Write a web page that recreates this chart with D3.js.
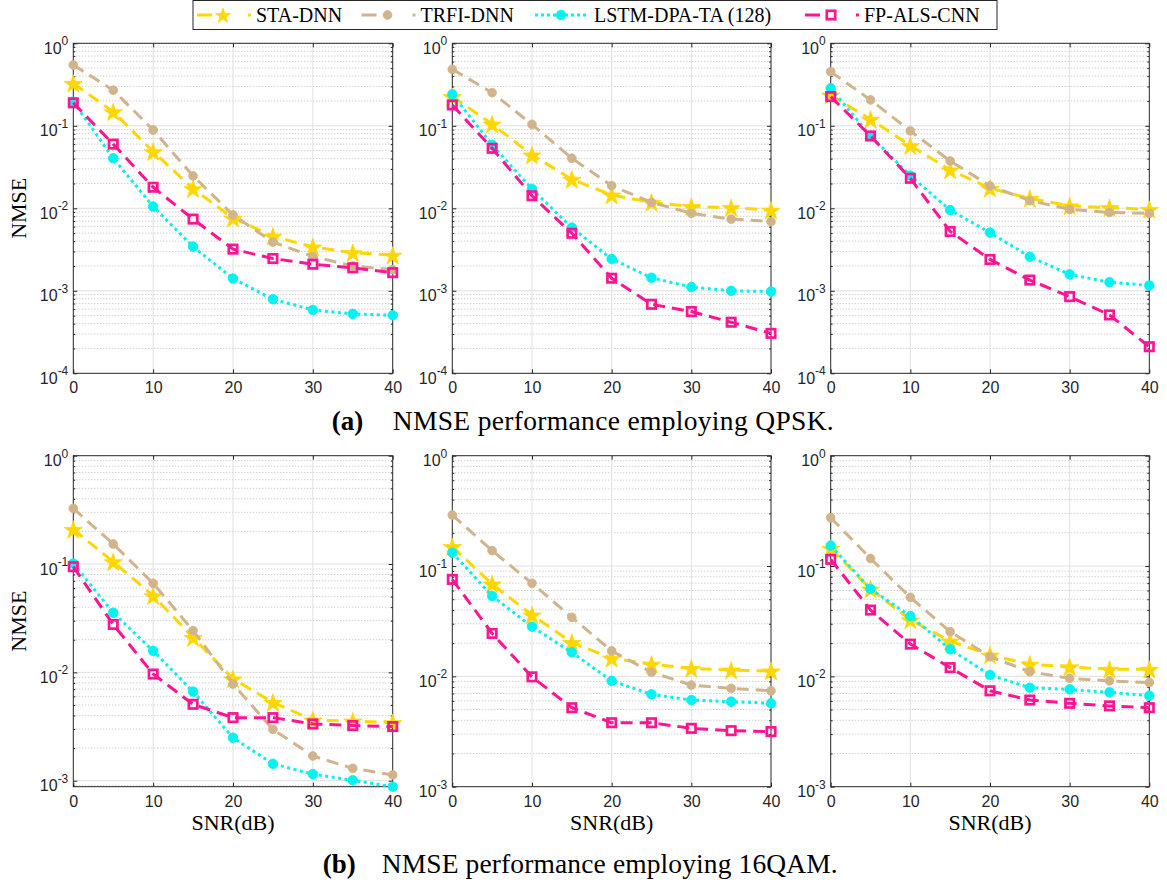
<!DOCTYPE html>
<html><head><meta charset="utf-8">
<script src="https://cdn.jsdelivr.net/npm/d3@7"></script>
<style>body{margin:0;background:#fff}svg{display:block}</style>
</head><body><svg id="c" width="1167" height="883"></svg>
<script>
const snr = [0,5,10,15,20,25,30,35,40];
const seriesNames = ["STA-DNN","TRFI-DNN","LSTM-DPA-TA (128)","FP-ALS-CNN"];
const xTicks = [0,10,20,30,40];
const captionA = ["(a)", "NMSE performance employing QPSK."];
const captionB = ["(b)", "NMSE performance employing 16QAM."];
const yLabel = "NMSE", xLabel = "SNR(dB)";

// QPSK
const qpsk_sta_1  = [0.327,0.148,0.0486,0.0173,0.0076,0.0046,0.0034,0.0029,0.0027];
const qpsk_trfi_1 = [0.546,0.27,0.089,0.0247,0.0083,0.0039,0.0026,0.002,0.0018];
const qpsk_lstm_1 = [0.196,0.0404,0.0105,0.00343,0.00141,0.00079,0.000586,0.000525,0.000505];
const qpsk_fp_1   = [0.19,0.06,0.018,0.0074,0.0032,0.00246,0.0021,0.0019,0.00166];

const qpsk_sta_2  = [0.226,0.105,0.0443,0.0225,0.0145,0.0118,0.0105,0.0102,0.0095];
const qpsk_trfi_2 = [0.484,0.252,0.104,0.0404,0.0188,0.0118,0.0087,0.0074,0.0069];
const qpsk_lstm_2 = [0.241,0.0586,0.0171,0.00583,0.00243,0.00144,0.00111,0.001,0.00098];
const qpsk_fp_2   = [0.179,0.0533,0.0142,0.00498,0.00142,0.000686,0.00056,0.000416,0.000305];

const qpsk_sta_3  = [0.236,0.12,0.0575,0.0292,0.0175,0.0132,0.0107,0.0102,0.0097];
const qpsk_trfi_3 = [0.453,0.206,0.0866,0.0375,0.0187,0.0124,0.0097,0.0089,0.0087];
const qpsk_lstm_3 = [0.285,0.0753,0.0249,0.0095,0.00507,0.00259,0.00158,0.00127,0.00116];
const qpsk_fp_3   = [0.226,0.0753,0.0231,0.00524,0.0024,0.00135,0.00085,0.00051,0.00021];

// 16QAM
const qam_sta_1  = [0.209,0.105,0.051,0.021,0.0087,0.00529,0.00363,0.00355,0.00343];
const qam_trfi_1 = [0.326,0.153,0.0663,0.0243,0.0078,0.00298,0.00169,0.0013,0.00113];
const qam_lstm_1 = [0.101,0.0355,0.0158,0.00664,0.00249,0.00143,0.00115,0.00101,0.00088];
const qam_fp_1   = [0.0945,0.0277,0.00965,0.00507,0.00382,0.00382,0.00334,0.00323,0.00316];

const qam_sta_2  = [0.15,0.0687,0.036,0.0203,0.0146,0.0129,0.0118,0.0114,0.0112];
const qam_trfi_2 = [0.29,0.138,0.0697,0.0343,0.017,0.0109,0.00834,0.00778,0.0074];
const qam_lstm_2 = [0.132,0.0535,0.0282,0.0165,0.0091,0.00687,0.0061,0.0059,0.0057];
const qam_fp_2   = [0.0757,0.0245,0.0099,0.0052,0.0038,0.0038,0.00338,0.00322,0.00316];

const qam_sta_3  = [0.145,0.0619,0.0325,0.0209,0.0156,0.0129,0.0122,0.0116,0.0116];
const qam_trfi_3 = [0.274,0.117,0.052,0.0254,0.0151,0.011,0.0096,0.0091,0.0088];
const qam_lstm_3 = [0.153,0.0619,0.0352,0.0176,0.0103,0.00789,0.00762,0.00716,0.00668];
const qam_fp_3   = [0.115,0.0399,0.0196,0.012,0.0074,0.0061,0.0057,0.0054,0.0052];

const topMin = 1e-4, bottomMin = 1e-3, bottomLeftMin = 8.8e-4;

const styles = [
  {color:"#FFD700", dash:"12,7", width:3, marker:"star"},
  {color:"#D2B48C", dash:"12,7", width:3, marker:"circle", r:4.4},
  {color:"#00F2F2", dash:"3,3.5", width:3, marker:"circle", r:4.8},
  {color:"#FF1493", dash:"12,7", width:3, marker:"square"}
];

const colsX = [[73.3,392.7],[452.3,771],[830.7,1149.3]];
const rowsY = [[43.3,373.3],[455.7,786.7]];

const panels = [
  {c:0,r:0,ymin:topMin,data:[qpsk_sta_1,qpsk_trfi_1,qpsk_lstm_1,qpsk_fp_1]},
  {c:1,r:0,ymin:topMin,data:[qpsk_sta_2,qpsk_trfi_2,qpsk_lstm_2,qpsk_fp_2]},
  {c:2,r:0,ymin:topMin,data:[qpsk_sta_3,qpsk_trfi_3,qpsk_lstm_3,qpsk_fp_3]},
  {c:0,r:1,ymin:bottomLeftMin,data:[qam_sta_1,qam_trfi_1,qam_lstm_1,qam_fp_1]},
  {c:1,r:1,ymin:bottomMin,data:[qam_sta_2,qam_trfi_2,qam_lstm_2,qam_fp_2]},
  {c:2,r:1,ymin:bottomMin,data:[qam_sta_3,qam_trfi_3,qam_lstm_3,qam_fp_3]}
];

const svg = d3.select("#c");
const AX = "#262626";
const SANS = "'Liberation Sans', Arial, sans-serif";
const SERIF = "'Liberation Serif', 'Times New Roman', serif";

function starPath(R){
  const r = R*0.382, pts=[];
  for(let i=0;i<10;i++){
    const a = -Math.PI/2 + i*Math.PI/5;
    const rr = i%2===0 ? R : r;
    pts.push([rr*Math.cos(a), rr*Math.sin(a)]);
  }
  return "M"+pts.map(p=>p[0].toFixed(2)+","+p[1].toFixed(2)).join("L")+"Z";
}

function drawMarker(g, st, cx, cy, scaleR){
  const k = scaleR||1;
  if(st.marker==="star"){
    g.append("path").attr("d", starPath(9.6*k)).attr("transform",`translate(${cx},${cy+1})`)
      .attr("fill", st.color).attr("stroke", st.color).attr("stroke-width",0.8);
  } else if(st.marker==="circle"){
    g.append("circle").attr("cx",cx).attr("cy",cy).attr("r",st.r*k)
      .attr("fill",st.color).attr("stroke",st.color).attr("stroke-width",0.8);
  } else {
    const h = 4.2*k;
    g.append("rect").attr("x",cx-h).attr("y",cy-h).attr("width",2*h).attr("height",2*h)
      .attr("fill","none").attr("stroke",st.color).attr("stroke-width",2.7);
  }
}

panels.forEach(p=>{
  const [x0,x1] = colsX[p.c], [y0,y1] = rowsY[p.r];
  const x = d3.scaleLinear().domain([0,40]).range([x0,x1]);
  const y = d3.scaleLog().domain([p.ymin,1]).range([y1,y0]);
  const g = svg.append("g");
  const lo = Math.ceil(Math.log10(p.ymin)-1e-9);
  const decades = d3.range(lo,1).map(e=>Math.pow(10,e));
  const minors = [];
  for(let e=lo-1;e<0;e++) for(let m=2;m<=9;m++){ const v=m*Math.pow(10,e); if(v>=p.ymin*0.999 && v<1) minors.push(v); }

  // minor grid (dotted)
  g.append("g").selectAll("line").data(minors).join("line")
    .attr("x1",x0).attr("x2",x1).attr("y1",d=>y(d)).attr("y2",d=>y(d))
    .attr("stroke","#bdbdbd").attr("stroke-width",1).attr("stroke-dasharray","1,2");
  // major grid
  g.append("g").selectAll("line").data(decades.filter(d=>d<1 && d>p.ymin)).join("line")
    .attr("x1",x0).attr("x2",x1).attr("y1",d=>y(d)).attr("y2",d=>y(d))
    .attr("stroke","#e0e0e0").attr("stroke-width",1);
  g.append("g").selectAll("line").data(xTicks.slice(1,-1)).join("line")
    .attr("x1",d=>x(d)).attr("x2",d=>x(d)).attr("y1",y0).attr("y2",y1)
    .attr("stroke","#e0e0e0").attr("stroke-width",1);

  // axes (ticks inward)
  const xa = g.append("g").attr("transform",`translate(0,${y1})`)
    .call(d3.axisBottom(x).tickValues(xTicks).tickSize(-4).tickPadding(8.5).tickFormat(d3.format("d")));
  xa.select(".domain").remove();
  xa.selectAll(".tick line").attr("stroke",AX);
  xa.selectAll(".tick text").attr("font-family",SANS).attr("font-size",16).attr("fill",AX)
    .attr("dy","0.71em");
  const xt = g.append("g").attr("transform",`translate(0,${y0})`)
    .call(d3.axisTop(x).tickValues(xTicks).tickSize(-4).tickFormat(""));
  xt.select(".domain").remove(); xt.selectAll(".tick line").attr("stroke",AX);

  const ya = g.append("g").attr("transform",`translate(${x0},0)`)
    .call(d3.axisLeft(y).tickValues(decades).tickSize(-4).tickFormat(""));
  ya.select(".domain").remove(); ya.selectAll(".tick line").attr("stroke",AX);
  ya.selectAll(".tick").each(function(d){
    const t = d3.select(this).append("text").attr("x",-5).attr("y",10)
      .attr("text-anchor","end").attr("font-family",SANS).attr("font-size",16).attr("fill",AX);
    t.append("tspan").text("10");
    t.append("tspan").attr("font-size",12).attr("dy",-8.5).text(String(Math.round(Math.log10(d))));
  });
  const ym = g.append("g").attr("transform",`translate(${x0},0)`)
    .call(d3.axisLeft(y).tickValues(minors).tickSize(-2).tickFormat(""));
  ym.select(".domain").remove(); ym.selectAll(".tick line").attr("stroke",AX);
  const yr = g.append("g").attr("transform",`translate(${x1},0)`)
    .call(d3.axisRight(y).tickValues(decades).tickSize(-4).tickFormat(""));
  yr.select(".domain").remove(); yr.selectAll(".tick line").attr("stroke",AX);
  const yrm = g.append("g").attr("transform",`translate(${x1},0)`)
    .call(d3.axisRight(y).tickValues(minors).tickSize(-2).tickFormat(""));
  yrm.select(".domain").remove(); yrm.selectAll(".tick line").attr("stroke",AX);

  g.append("rect").attr("x",x0).attr("y",y0).attr("width",x1-x0).attr("height",y1-y0)
    .attr("fill","none").attr("stroke",AX).attr("stroke-width",1);

  // series
  const line = d3.line().x((d,i)=>x(snr[i])).y(d=>y(d));
  p.data.forEach((vals,si)=>{
    const st = styles[si];
    const sg = g.append("g");
    sg.append("path").datum(vals).attr("d",line).attr("fill","none")
      .attr("stroke",st.color).attr("stroke-width",st.width).attr("stroke-dasharray",st.dash);
    vals.forEach((v,i)=>drawMarker(sg, st, x(snr[i]), y(v)));
  });

  if(p.c===0){
    svg.append("text").attr("transform",`translate(25.5,${(y0+y1)/2}) rotate(-90)`)
      .attr("text-anchor","middle").attr("font-family",SERIF).attr("font-size",22).attr("fill","#000")
      .text(yLabel);
  }
  if(p.r===1){
    svg.append("text").attr("x",(x0+x1)/2).attr("y",830).attr("text-anchor","middle")
      .attr("font-family",SERIF).attr("font-size",22).attr("fill","#000").text(xLabel);
  }
});

// legend
const lg = svg.append("g");
lg.append("rect").attr("x",193).attr("y",0.5).attr("width",804).attr("height",29)
  .attr("fill","#fff").attr("stroke",AX).attr("stroke-width",1);
const legendX = [197, 361.5, 535, 805];
seriesNames.forEach((name,i)=>{
  const st = styles[i], L = legendX[i], cy = 15;
  lg.append("line").attr("x1",L).attr("x2",L+54).attr("y1",cy).attr("y2",cy)
    .attr("stroke",st.color).attr("stroke-width",st.width).attr("stroke-dasharray",i===2?"3,3":"15,36,3");
  drawMarker(lg, st, L+26, cy, st.marker==="star"?0.82:1);
  lg.append("text").attr("x",L+59).attr("y",cy+6.5).attr("font-family",SERIF).attr("font-size",20)
    .attr("fill","#000").text(name);
});

// captions
function caption(c, xb, xt, len, yb){
  svg.append("text").attr("x",xb).attr("y",yb).attr("font-family",SERIF).attr("font-weight","bold")
    .attr("font-size",27).attr("fill","#000").text(c[0]);
  svg.append("text").attr("x",xt).attr("y",yb).attr("font-family",SERIF)
    .attr("font-size",27.5).attr("fill","#000").attr("textLength",len).attr("lengthAdjust","spacing").text(c[1]);
}
caption(captionA, 331.7, 392.7, 441, 430);
caption(captionB, 322.7, 381.7, 456, 873);
</script></body></html>
